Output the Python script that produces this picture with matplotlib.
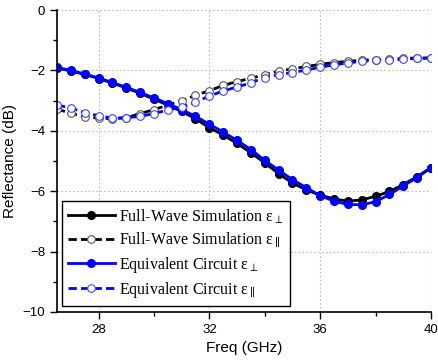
import matplotlib
matplotlib.use("Agg")
import matplotlib.pyplot as plt
from matplotlib.ticker import MultipleLocator

freq = [26.5, 27.0, 27.5, 28.0, 28.5, 29.0, 29.5, 30.0, 30.5, 31.0, 31.5, 32.0, 32.5, 33.0,
        33.5, 34.0, 34.5, 35.0, 35.5, 36.0, 36.5, 37.0, 37.5, 38.0, 38.5, 39.0, 39.5, 40.0]

fw_perp = [-1.92, -2.02, -2.13, -2.27, -2.42, -2.58, -2.76, -2.95, -3.15, -3.36, -3.60, -3.90, -4.14, -4.42,
           -4.73, -5.06, -5.42, -5.73, -5.96, -6.13, -6.26, -6.33, -6.29, -6.17, -6.01, -5.78, -5.52, -5.22]
fw_par = [-3.28, -3.42, -3.54, -3.58, -3.60, -3.57, -3.43, -3.30, -3.15, -3.00, -2.83, -2.67, -2.50, -2.37,
          -2.26, -2.14, -2.02, -1.95, -1.87, -1.80, -1.74, -1.70, -1.66, -1.65, -1.63, -1.60, -1.59, -1.59]
ec_perp = [-1.90, -2.00, -2.12, -2.25, -2.40, -2.56, -2.73, -2.91, -3.10, -3.30, -3.52, -3.78, -4.04, -4.32,
           -4.62, -4.98, -5.30, -5.62, -5.88, -6.15, -6.33, -6.44, -6.45, -6.35, -6.11, -5.82, -5.55, -5.22]
ec_par = [-3.15, -3.24, -3.40, -3.50, -3.58, -3.57, -3.52, -3.43, -3.31, -3.22, -3.05, -2.85, -2.68, -2.55,
          -2.41, -2.24, -2.14, -2.07, -1.99, -1.89, -1.82, -1.75, -1.70, -1.67, -1.66, -1.63, -1.60, -1.59]

labels = ["Full-Wave Simulation ε$_{\\perp}$", "Full-Wave Simulation ε$_{\\parallel}$",
          "Equivalent Circuit ε$_{\\perp}$", "Equivalent Circuit ε$_{\\parallel}$"]

plt.rcParams['font.family'] = ['Liberation Sans', 'DejaVu Sans']
plt.rcParams['mathtext.fontset'] = 'dejavuserif'

fig = plt.figure(figsize=(4.38, 3.64), dpi=100)
ax = fig.add_axes([0.130, 0.143, 0.854, 0.8295])

ms = 5.5
ax.plot(freq, fw_perp, color='black', lw=2, marker='o', ms=ms, mfc='black', mec='black', label=labels[0])
ax.plot(freq, fw_par, color='black', lw=2, ls=(0, (3, 1.5)), marker='o', ms=ms, mfc='white', mec='#555555',
        mew=0.8, label=labels[1])
ax.plot(freq, ec_perp, color='blue', lw=2, marker='o', ms=ms, mfc='blue', mec='blue', label=labels[2])
ax.plot(freq, ec_par, color='blue', lw=2, ls=(0, (3, 1.5)), marker='o', ms=ms, mfc='white', mec='#4444ff',
        mew=0.8, label=labels[3])

ax.set_xlim(26.5, 40)
ax.set_ylim(-10, 0)
ax.set_xticks([28, 32, 36, 40])
ax.xaxis.set_minor_locator(MultipleLocator(2))
ax.yaxis.set_major_locator(MultipleLocator(2))
ax.yaxis.set_minor_locator(MultipleLocator(1))
ax.tick_params(which='major', direction='out', length=5, width=1, labelsize=9.5)
ax.tick_params(which='minor', direction='out', length=3, width=1)
ax.grid(True, which='major', color='#bbbbbb', ls=(0, (1.5, 2)), lw=0.8)
for s in ['top', 'right']:
    ax.spines[s].set_visible(False)
for s in ['left', 'bottom']:
    ax.spines[s].set_linewidth(1.2)

ax.set_xlabel("Freq (GHz)", fontsize=11, labelpad=4)
ax.set_ylabel("Reflectance (dB)", fontsize=11, labelpad=4)

leg = ax.legend(loc='lower left', bbox_to_anchor=(0.013, 0.02), borderaxespad=0,
                prop={'family': ['Liberation Serif', 'DejaVu Serif'], 'size': 11.5},
                fancybox=False, edgecolor='black', framealpha=1, handlelength=2.9,
                labelspacing=0.3, borderpad=0.4, handletextpad=0.3, borderaxespad_=None) if False else \
      ax.legend(loc='lower left', bbox_to_anchor=(0.013, 0.02), borderaxespad=0,
                prop={'family': ['Liberation Serif', 'DejaVu Serif'], 'size': 11.5},
                fancybox=False, edgecolor='black', framealpha=1, handlelength=2.9,
                labelspacing=0.3, borderpad=0.4, handletextpad=0.3)
leg.get_frame().set_linewidth(1.0)

fig.savefig("out.png", dpi=100)
